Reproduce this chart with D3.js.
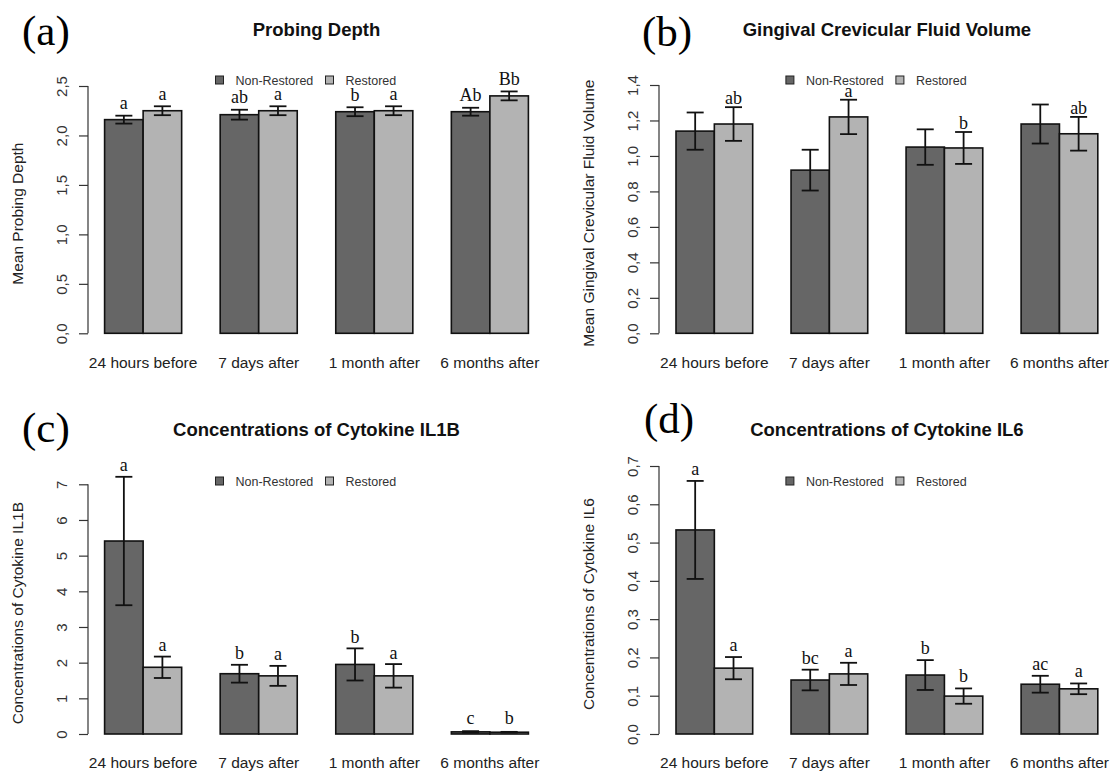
<!DOCTYPE html>
<html>
<head>
<meta charset="utf-8">
<script src="https://cdn.jsdelivr.net/npm/d3@7"></script>
<style>
  body { margin: 0; background: #fff; }
  svg { display: block; }
</style>
</head>
<body>
<svg id="chart" width="1113" height="775"></svg>
<script>
// data
const categories = ['24 hours before', '7 days after', '1 month after', '6 months after'];
const seriesNames = ['Non-Restored', 'Restored'];

const probingNR = [2.16, 2.21, 2.24, 2.24];
const probingNRErr = [0.04, 0.05, 0.045, 0.04];
const probingR = [2.25, 2.25, 2.25, 2.40];
const probingRErr = [0.045, 0.045, 0.045, 0.045];
const probingNRLetters = ['a', 'ab', 'b', 'Ab'];
const probingRLetters = ['a', 'a', 'a', 'Bb'];
const probingTicks = [0, 0.5, 1, 1.5, 2, 2.5];

const gcfNR = [1.14, 0.92, 1.05, 1.18];
const gcfNRErr = [0.105, 0.115, 0.10, 0.11];
const gcfR = [1.18, 1.22, 1.045, 1.125];
const gcfRErr = [0.095, 0.097, 0.09, 0.095];
const gcfNRLetters = ['', '', '', ''];
const gcfRLetters = ['ab', 'a', 'b', 'ab'];
const gcfTicks = [0, 0.2, 0.4, 0.6, 0.8, 1.0, 1.2, 1.4];

const il1bNR = [5.41, 1.69, 1.95, 0.06];
const il1bNRErr = [1.8, 0.25, 0.45, 0.02];
const il1bR = [1.87, 1.63, 1.63, 0.05];
const il1bRErr = [0.3, 0.28, 0.33, 0.01];
const il1bNRLetters = ['a', 'b', 'b', 'c'];
const il1bRLetters = ['a', 'a', 'a', 'b'];
const il1bTicks = [0, 1, 2, 3, 4, 5, 6, 7];

const il6NR = [0.533, 0.141, 0.154, 0.130];
const il6NRErr = [0.128, 0.027, 0.039, 0.022];
const il6R = [0.172, 0.157, 0.099, 0.118];
const il6RErr = [0.029, 0.029, 0.02, 0.014];
const il6NRLetters = ['a', 'bc', 'b', 'ac'];
const il6RLetters = ['a', 'a', 'b', 'a'];
const il6Ticks = [0, 0.1, 0.2, 0.3, 0.4, 0.5, 0.6, 0.7];

const colors = ['#666666', '#b3b3b3'];
const sans = '"Liberation Sans", Arial, sans-serif';
const serif = '"Liberation Serif", "Times New Roman", serif';

// panel layout (positions only)
const panels = [
  { tag: '(a)', title: 'Probing Depth', ylab: 'Mean Probing Depth',
    nr: probingNR, nrErr: probingNRErr, r: probingR, rErr: probingRErr,
    nrLet: probingNRLetters, rLet: probingRLetters, ticks: probingTicks,
    axisX: 88, x0: 104.6, x1: 528.4, y0: 333.3, yTop: 86, gap: 6.5,
    tagX: 22, tagY: 45, titleY: 36, legY: 80, labY: 368, fmt: ',.1f' },
  { tag: '(b)', title: 'Gingival Crevicular Fluid Volume', ylab: 'Mean Gingival Crevicular Fluid Volume',
    nr: gcfNR, nrErr: gcfNRErr, r: gcfR, rErr: gcfRErr,
    nrLet: gcfNRLetters, rLet: gcfRLetters, ticks: gcfTicks,
    axisX: 659, x0: 676, x1: 1097.8, y0: 333.3, yTop: 85, gap: 3,
    tagX: 642, tagY: 46, titleY: 36, legY: 80, labY: 368, fmt: ',.1f' },
  { tag: '(c)', title: 'Concentrations of Cytokine IL1B', ylab: 'Concentrations of Cytokine IL1B',
    nr: il1bNR, nrErr: il1bNRErr, r: il1bR, rErr: il1bRErr,
    nrLet: il1bNRLetters, rLet: il1bRLetters, ticks: il1bTicks,
    axisX: 88, x0: 104.6, x1: 528.4, y0: 734, yTop: 484.3, gap: 5.5,
    tagX: 22, tagY: 442, titleY: 436, legY: 481, labY: 768, fmt: 'd' },
  { tag: '(d)', title: 'Concentrations of Cytokine IL6', ylab: 'Concentrations of Cytokine IL6',
    nr: il6NR, nrErr: il6NRErr, r: il6R, rErr: il6RErr,
    nrLet: il6NRLetters, rLet: il6RLetters, ticks: il6Ticks,
    axisX: 659, x0: 676, x1: 1097.8, y0: 734, yTop: 466, gap: 6,
    tagX: 644, tagY: 433, titleY: 436, legY: 481, labY: 768, fmt: ',.1f' }
];

const svg = d3.select('#chart');

// comma as decimal mark, as in the figure
const locale = d3.formatLocale({ decimal: ',', thousands: '.', grouping: [3], currency: ['', ''] });

panels.forEach(p => {
  const g = svg.append('g');

  const yScale = d3.scaleLinear()
    .domain([0, d3.max(p.ticks)])
    .range([p.y0, p.yTop]);

  const xScale = d3.scaleBand()
    .domain(categories)
    .range([p.x0, p.x1])
    .paddingInner(1 / 3)
    .paddingOuter(0);

  const xInner = d3.scaleBand()
    .domain(seriesNames)
    .range([0, xScale.bandwidth()]);

  // y axis, R style: rotated labels, line only over tick range
  const yAxis = g.append('g')
    .attr('transform', `translate(${p.axisX},0)`)
    .call(d3.axisLeft(yScale).tickValues(p.ticks).tickSize(9).tickPadding(0)
      .tickFormat(locale.format(p.fmt)).tickSizeOuter(0));
  yAxis.select('.domain')
    .attr('d', `M0,${yScale(p.ticks[0])}V${yScale(d3.max(p.ticks))}`)
    .attr('stroke', '#333').attr('stroke-width', 1.2);
  yAxis.selectAll('.tick line').attr('stroke', '#333').attr('stroke-width', 1.2);
  yAxis.selectAll('.tick text')
    .attr('x', null).attr('dy', null)
    .attr('transform', 'translate(-27,0) rotate(-90)')
    .attr('text-anchor', 'middle')
    .attr('dominant-baseline', 'central')
    .attr('font-family', sans).attr('font-size', 15).attr('fill', '#333');

  // y axis title
  g.append('text')
    .attr('transform', `translate(${p.axisX - 65},${(p.y0 + p.yTop) / 2 + 4}) rotate(-90)`)
    .attr('text-anchor', 'middle')
    .attr('font-family', sans).attr('font-size', 15.5).attr('fill', '#222')
    .text(p.ylab);

  // x category labels
  g.selectAll('.xlab')
    .data(categories)
    .enter()
    .append('text')
    .attr('x', d => xScale(d) + xScale.bandwidth() / 2)
    .attr('y', p.labY)
    .attr('text-anchor', 'middle')
    .attr('font-family', sans).attr('font-size', 15.5).attr('fill', '#222')
    .text(d => d);

  const rows = [];
  categories.forEach((c, i) => {
    rows.push({ cat: c, s: seriesNames[0], v: p.nr[i], e: p.nrErr[i], lab: p.nrLet[i], col: colors[0] });
    rows.push({ cat: c, s: seriesNames[1], v: p.r[i], e: p.rErr[i], lab: p.rLet[i], col: colors[1] });
  });

  const cx = d => xScale(d.cat) + xInner(d.s) + xInner.bandwidth() / 2;

  // bars
  g.selectAll('.bar')
    .data(rows)
    .enter()
    .append('rect')
    .attr('x', d => xScale(d.cat) + xInner(d.s))
    .attr('y', d => yScale(d.v))
    .attr('width', xInner.bandwidth())
    .attr('height', d => yScale(0) - yScale(d.v))
    .attr('fill', d => d.col)
    .attr('stroke', '#111')
    .attr('stroke-width', 1.6);

  // error bars
  const eb = g.selectAll('.err')
    .data(rows)
    .enter()
    .append('g')
    .attr('stroke', '#111')
    .attr('stroke-width', 1.8);
  eb.append('line')
    .attr('x1', cx).attr('x2', cx)
    .attr('y1', d => yScale(d.v + d.e)).attr('y2', d => yScale(d.v - d.e));
  eb.append('line')
    .attr('x1', d => cx(d) - 8.5).attr('x2', d => cx(d) + 8.5)
    .attr('y1', d => yScale(d.v + d.e)).attr('y2', d => yScale(d.v + d.e));
  eb.append('line')
    .attr('x1', d => cx(d) - 8.5).attr('x2', d => cx(d) + 8.5)
    .attr('y1', d => yScale(d.v - d.e)).attr('y2', d => yScale(d.v - d.e));

  // significance letters
  g.selectAll('.sig')
    .data(rows.filter(d => d.lab))
    .enter()
    .append('text')
    .attr('x', cx)
    .attr('y', d => Math.min(yScale(d.v + d.e), yScale(0) - 5) - p.gap)
    .attr('text-anchor', 'middle')
    .attr('font-family', serif).attr('font-size', 18).attr('fill', '#111')
    .text(d => d.lab);

  // title
  const mid = (p.x0 + p.x1) / 2;
  g.append('text')
    .attr('x', mid).attr('y', p.titleY)
    .attr('text-anchor', 'middle')
    .attr('font-family', sans).attr('font-size', 18.5).attr('font-weight', 'bold').attr('fill', '#111')
    .text(p.title);

  // panel tag
  g.append('text')
    .attr('x', p.tagX).attr('y', p.tagY)
    .attr('font-family', serif).attr('font-size', 43).attr('fill', '#000')
    .text(p.tag);

  // legend
  const leg = g.append('g').attr('transform', `translate(${mid - 101},${p.legY})`);
  const legX = [0, 110];
  seriesNames.forEach((s, i) => {
    leg.append('rect')
      .attr('x', legX[i]).attr('y', -4).attr('width', 8).attr('height', 8)
      .attr('fill', colors[i]).attr('stroke', '#222').attr('stroke-width', 1);
    leg.append('text')
      .attr('x', legX[i] + 20).attr('y', 4.5)
      .attr('font-family', sans).attr('font-size', 12.5).attr('fill', '#333')
      .text(s);
  });
});
</script>
</body>
</html>
